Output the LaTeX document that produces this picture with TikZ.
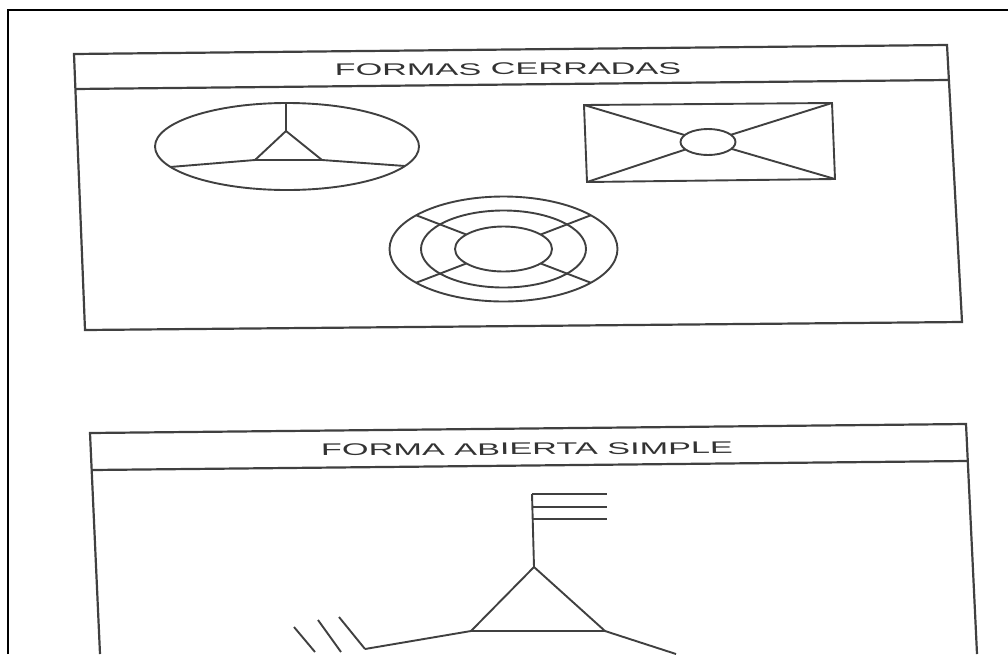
\documentclass[tikz,border=0pt]{standalone}
\usepackage{fontspec}
\setmainfont{Liberation Sans}
\usetikzlibrary{shapes.geometric}

\begin{document}
\begin{tikzpicture}[x=1pt,y=-1pt,
  every node/.style={inner sep=0pt, outer sep=0pt},
  panel/.style={draw=black!75, line width=2.2pt},
  figure/.style={draw=black!75, line width=1.9pt},
  title/.style={font=\fontsize{16.8}{18}\selectfont, text=black!80, xscale=2.04, rotate=0.6}]
\useasboundingbox (0,0) rectangle (1008,654);
\draw[black, line width=2.4pt] (8,654) -- (8,10) -- (1008,10);

% closed forms
\coordinate (ctl) at (74,54);
\coordinate (ctr) at (947,45);
\coordinate (cbr) at (962,322);
\coordinate (cbl) at (85,330);
\coordinate (chl) at (75,89);
\coordinate (chr) at (948,80);
\draw[panel] (ctl) -- (ctr) -- (cbr) -- (cbl) -- cycle;
\draw[panel] (chl) -- (chr);
\node[title] (cerradas) at (508,69) {FORMAS CERRADAS};

\draw[figure] (287,146.5) ellipse [x radius=132, y radius=43.5];
\coordinate (ytop) at (286,103);
\coordinate (yj) at (286,131);
\coordinate (ya) at (255,160);
\coordinate (yb) at (322,160);
\coordinate (yl) at (170,167);
\coordinate (yr) at (405,166);
\draw[figure] (ytop) -- (yj) -- (ya);
\draw[figure] (yj) -- (yb);
\draw[figure] (yl) -- (ya) -- (yb) -- (yr);

\coordinate (rtl) at (584,105);
\coordinate (rtr) at (832,103);
\coordinate (rbr) at (835,179);
\coordinate (rbl) at (587,182);
\draw[figure] (rtl) -- (rtr) -- (rbr) -- (rbl) -- cycle;
\node[figure, ellipse, minimum width=55pt, minimum height=26pt] (knot) at (708,142) {};
\foreach \c in {rtl,rtr,rbr,rbl}
  \draw[figure] (\c) -- (knot);

\draw[figure] (503.5,249) ellipse [x radius=114, y radius=52.5];
\draw[figure] (503.5,249) ellipse [x radius=82.5, y radius=38.5];
\draw[figure] (503.5,249) ellipse [x radius=48.5, y radius=22.5];
\foreach \a in {40,140,220,320}
  \draw[figure] ({503.5+48.5*cos(\a)},{249-22.5*sin(\a)}) -- ({503.5+114*cos(\a)},{249-52.5*sin(\a)});

% open simple form
\coordinate (otl) at (90,433);
\coordinate (otr) at (966,424);
\coordinate (obr) at (977,654);
\coordinate (obl) at (100,654);
\coordinate (ohl) at (92,470);
\coordinate (ohr) at (967,461);
\draw[panel] (obl) -- (otl) -- (otr) -- (obr);
\draw[panel] (ohl) -- (ohr);
\node[title] (abierta) at (527,449) {FORMA ABIERTA SIMPLE};

\coordinate (apex) at (534,567);
\coordinate (bleft) at (471,631);
\coordinate (bright) at (605,631);
\coordinate (stem) at (532,494);
\draw[figure] (apex) -- (bleft) -- (bright) -- cycle;
\draw[figure] (apex) -- (stem);
\foreach \y in {494,507,519}
  \draw[figure] (532,\y) -- (607,\y);
\coordinate (arm) at (365,649);
\draw[figure] (bleft) -- (arm);
\draw[figure] (bright) -- (676,654);
\draw[figure] (294,627) -- (315,652);
\draw[figure] (318,620) -- (341,652);
\draw[figure] (339,617) -- (arm);
\end{tikzpicture}
\end{document}
